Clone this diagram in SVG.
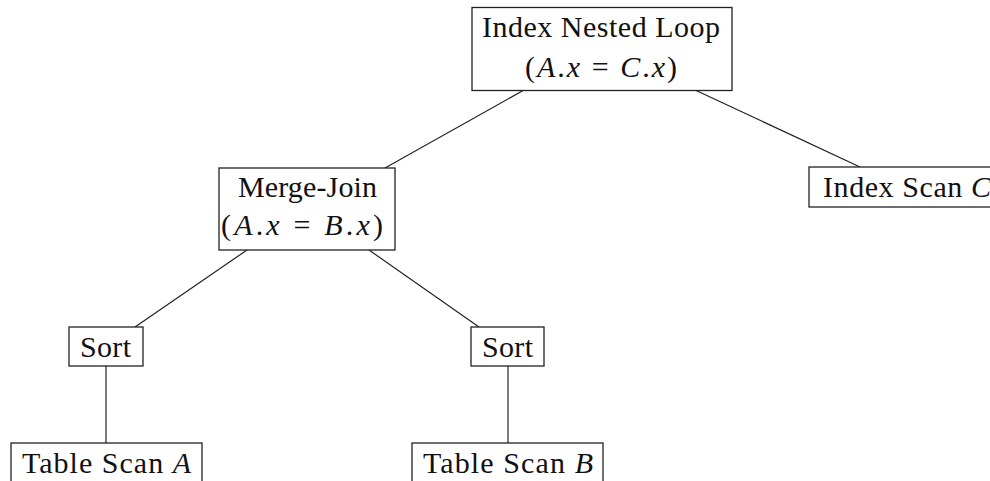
<svg xmlns="http://www.w3.org/2000/svg" width="990" height="481" viewBox="0 0 990 481">
<style>
.box{fill:#fff;stroke:#222;stroke-width:1.3}
.lbl{font-family:"Liberation Serif","Times New Roman",serif;font-size:30px;fill:#111}
.it{font-style:italic}
.edge{stroke:#222;stroke-width:1.2;fill:none}
</style>
<rect width="990" height="481" fill="#fff"/>
<g id="connectors">
<line class="edge" x1="524" y1="90" x2="385" y2="168"/>
<line class="edge" x1="695" y1="90" x2="860" y2="167"/>
<line class="edge" x1="247" y1="250" x2="135" y2="327"/>
<line class="edge" x1="369" y1="250" x2="479" y2="327"/>
<line class="edge" x1="106" y1="366" x2="106" y2="443"/>
<line class="edge" x1="508" y1="366" x2="508" y2="443"/>
</g>
<g id="inl">
<rect class="box" x="472" y="7.5" width="260" height="83"/>
<text class="lbl" x="482" y="37" textLength="238">Index Nested Loop</text>
<text class="lbl" x="525" y="77" textLength="152">(<tspan class="it">A</tspan>.<tspan class="it">x</tspan> = <tspan class="it">C</tspan>.<tspan class="it">x</tspan>)</text>
</g>
<g id="mj">
<rect class="box" x="219" y="168" width="176" height="82"/>
<text class="lbl" x="238" y="197" textLength="139">Merge-Join</text>
<text class="lbl" x="221" y="235" textLength="162">(<tspan class="it">A</tspan>.<tspan class="it">x</tspan> = <tspan class="it">B</tspan>.<tspan class="it">x</tspan>)</text>
</g>
<g id="isc">
<rect class="box" x="809" y="167" width="198" height="40"/>
<text class="lbl" x="823" y="197" textLength="168">Index Scan <tspan class="it">C</tspan></text>
</g>
<g id="sort1">
<rect class="box" x="69" y="327" width="74" height="39"/>
<text class="lbl" x="80" y="357" textLength="51">Sort</text>
</g>
<g id="sort2">
<rect class="box" x="471" y="327" width="73" height="39"/>
<text class="lbl" x="482" y="357" textLength="51">Sort</text>
</g>
<g id="tsa">
<rect class="box" x="11" y="443" width="191" height="50"/>
<text class="lbl" x="22" y="473" textLength="169">Table Scan <tspan class="it">A</tspan></text>
</g>
<g id="tsb">
<rect class="box" x="412" y="443" width="191" height="50"/>
<text class="lbl" x="423" y="473" textLength="170">Table Scan <tspan class="it">B</tspan></text>
</g>
</svg>
